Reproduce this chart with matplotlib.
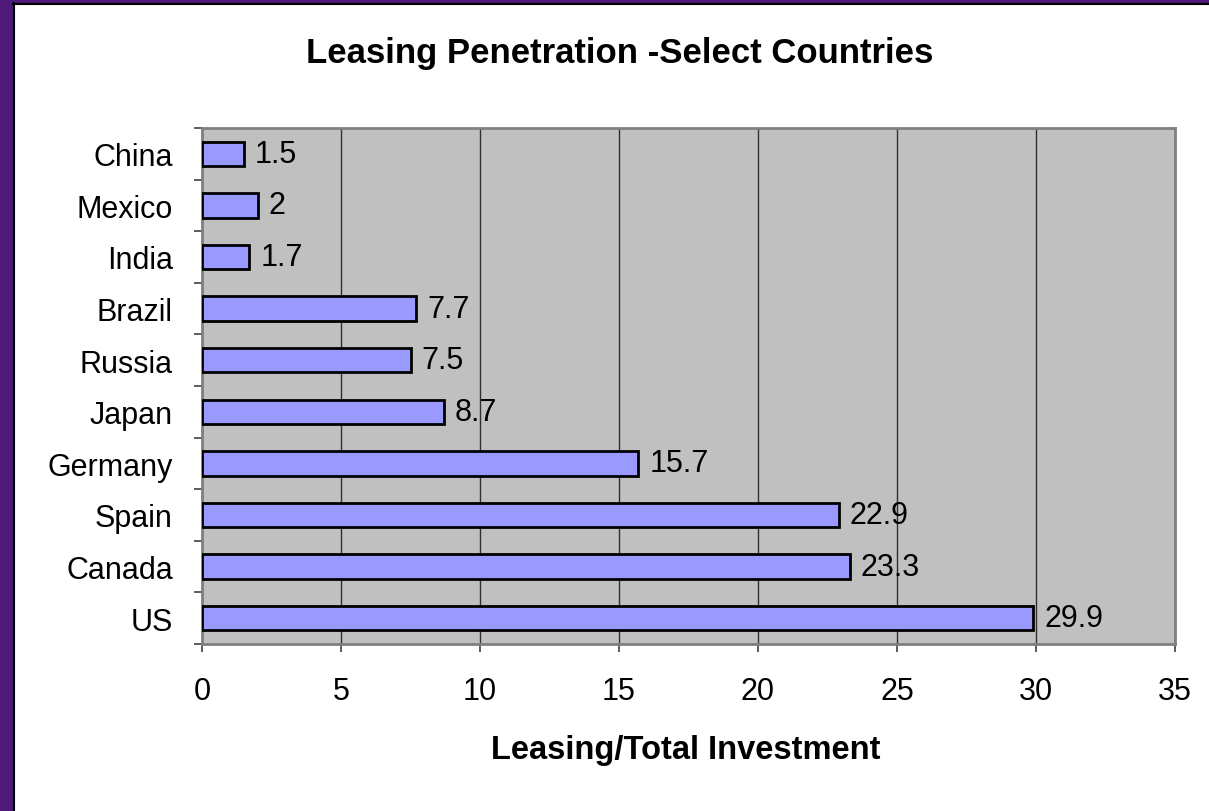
import numpy as np
import matplotlib.pyplot as plt
from matplotlib.patches import Rectangle
from matplotlib.lines import Line2D

plt.rcParams['font.family'] = ['Liberation Sans', 'DejaVu Sans']

# Leasing / total investment by country (top to bottom as shown)
countries = ['China', 'Mexico', 'India', 'Brazil', 'Russia', 'Japan',
             'Germany', 'Spain', 'Canada', 'US']
penetration = [1.5, 2, 1.7, 7.7, 7.5, 8.7, 15.7, 22.9, 23.3, 29.9]
value_labels = ['1.5', '2', '1.7', '7.7', '7.5', '8.7', '15.7', '22.9', '23.3', '29.9']
x_ticks = [0, 5, 10, 15, 20, 25, 30, 35]

fig = plt.figure(figsize=(12.09, 8.12), dpi=100)
fig.patch.set_facecolor('white')

# purple slide frame on left and top, with thin black inner line
purple = '#4f1a7c'
fig.patches.append(Rectangle((0, 0), 13 / 1209, 1, transform=fig.transFigure,
                             color=purple, zorder=0))
fig.patches.append(Rectangle((0, 1 - 4 / 812), 1, 4 / 812, transform=fig.transFigure,
                             color=purple, zorder=0))
fig.lines.append(Line2D([13.5 / 1209, 13.5 / 1209], [0, 1 - 4 / 812],
                        transform=fig.transFigure, color='black', lw=1.5))
fig.lines.append(Line2D([13 / 1209, 1], [1 - 4.5 / 812, 1 - 4.5 / 812],
                        transform=fig.transFigure, color='black', lw=1.5))

ax = fig.add_axes([202 / 1209, 1 - 645 / 812, (1175 - 202) / 1209, (645 - 129) / 812])
ax.set_facecolor('#c0c0c0')

y = np.arange(len(countries))
ax.barh(y, penetration, height=0.47, color='#9999ff', edgecolor='black',
        linewidth=2, zorder=3)
for yi, v, lab in zip(y, penetration, value_labels):
    ax.text(v + 0.4, yi, lab, va='center', ha='left', fontsize=22, zorder=4)

ax.set_ylim(len(countries) - 0.5, -0.5)
ax.set_xlim(0, 35)
ax.set_yticks(y)
ax.set_yticklabels(countries, fontsize=22)
ax.set_yticks(np.arange(-0.5, len(countries)), minor=True)
ax.tick_params(axis='y', which='major', length=0, pad=21)
ax.tick_params(axis='y', which='minor', length=5.8, width=1.2, color='#404040')
ax.set_xticks(x_ticks)
ax.set_xticklabels([str(t) for t in x_ticks], fontsize=22)
ax.tick_params(axis='x', length=5.8, width=1.2, color='#404040', pad=17)

ax.grid(axis='x', color='#303030', linewidth=1, zorder=1)
ax.set_axisbelow(True)
for s in ax.spines.values():
    s.set_color('#808080')
    s.set_linewidth(2)

fig.text(686 / 1209, 1 - 751 / 812, 'Leasing/Total Investment',
         ha='center', va='center', fontsize=23.5, fontweight='bold')
fig.text(620 / 1209, 1 - 54 / 812, 'Leasing Penetration -Select Countries',
         ha='center', va='center', fontsize=25, fontweight='bold')

fig.savefig('out.png', dpi=100)
